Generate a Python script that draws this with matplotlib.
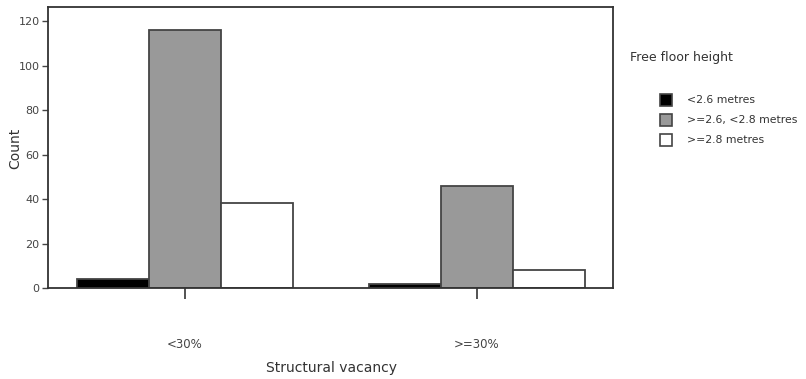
import matplotlib
matplotlib.use("Agg")
import matplotlib.pyplot as plt
import numpy as np
from matplotlib.patches import Rectangle

categories = ["<30%", ">=30%"]
series_names = ["<2.6 metres", ">=2.6, <2.8 metres", ">=2.8 metres"]
values = {
    "<2.6 metres": [4, 2],
    ">=2.6, <2.8 metres": [116, 46],
    ">=2.8 metres": [38, 8],
}
colors = ["#000000", "#999999", "#ffffff"]
yticks = [0, 20, 40, 60, 80, 100, 120]

plt.rcParams['font.family'] = ['DejaVu Sans']
fig = plt.figure(figsize=(8.06, 3.79), dpi=100)
W, H = 806, 379
ax = fig.add_axes([48 / W, 1 - 288 / H, (613 - 48) / W, (288 - 7) / H])

x = np.arange(len(categories))
bw = 0.2466
for i, name in enumerate(series_names):
    ax.bar(x + (i - 1) * bw, values[name], width=bw, color=colors[i],
           edgecolor="#444444", linewidth=1.3, zorder=2)

ax.set_xlim(-0.469, 1.466)
ax.set_ylim(0, 126.3)
ax.set_yticks(yticks)
ax.set_xticks(x)
ax.set_xticklabels(categories)
ax.tick_params(axis='x', length=8, width=1.3, color="#444444", pad=28,
               labelsize=8.5, labelcolor="#444444")
ax.tick_params(axis='y', length=4, width=1.0, color="#444444", pad=2,
               labelsize=8, labelcolor="#444444")
for s in ax.spines.values():
    s.set_color("#333333")
    s.set_linewidth(1.3)
ax.set_xlabel("Structural vacancy", fontsize=10, color="#333333")
ax.set_ylabel("Count", fontsize=10, color="#333333")
axw, axh = 613 - 48, 288 - 7
ax.xaxis.set_label_coords((331 - 48) / axw, -(368 - 288) / axh)
ax.yaxis.set_label_coords(-(48 - 15) / axw, (288 - 148) / axh)
ax.xaxis.label.set_va("center")
ax.yaxis.label.set_va("center")

# legend
fig.text(630 / W, 1 - 57 / H, "Free floor height", fontsize=9, color="#333333",
         va="center", ha="left")
ys = [100, 120, 140]
for i, name in enumerate(series_names):
    yc = ys[i]
    fig.patches.append(Rectangle((660 / W, 1 - (yc + 6) / H), 12 / W, 12 / H,
                                 transform=fig.transFigure, facecolor=colors[i],
                                 edgecolor="#444444", linewidth=1.2))
    fig.text(687 / W, 1 - yc / H, name, fontsize=7.8, color="#333333",
             va="center", ha="left")

fig.savefig("out.png", dpi=100)
